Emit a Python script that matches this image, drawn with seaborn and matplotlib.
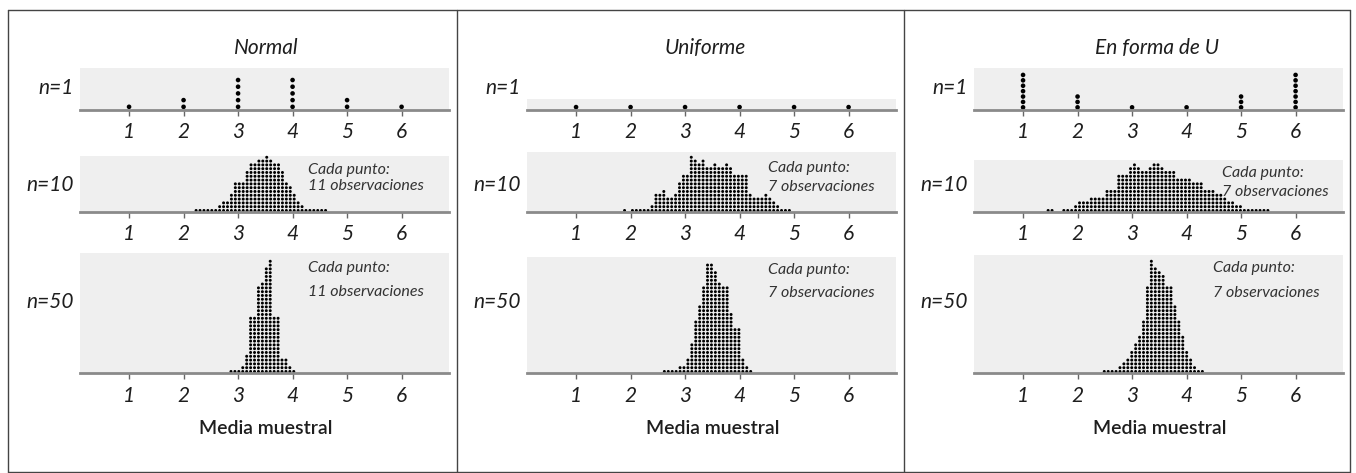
import numpy as np
import pandas as pd
import matplotlib
matplotlib.use("Agg")
import matplotlib.pyplot as plt
import seaborn as sns
from matplotlib.lines import Line2D

# ---- datos ----
TITLES = ["Normal", "Uniforme", "En forma de U"]
ROW_LABELS = ["n=1", "n=10", "n=50"]
TICKS = [1, 2, 3, 4, 5, 6]
XLABEL = "Media muestral"
NOTE_OBS = ["11 observaciones", "7 observaciones", "7 observaciones"]

BIN = 0.072  # ancho de cada columna de puntos

# n=1: un valor por cara
N1_VALUES = [1, 2, 3, 4, 5, 6]
NORMAL_N1 = [1, 2, 5, 5, 2, 1]
UNIFORM_N1 = [1, 1, 1, 1, 1, 1]
USHAPE_N1 = [7, 3, 1, 1, 3, 7]

# n=10: primer centro de columna + alturas
NORMAL_N10_START = 2.23
NORMAL_N10 = [1, 1, 1, 1, 1, 1, 2, 3, 3, 5, 8, 8, 8, 11, 13, 13, 14, 14, 15,
              14, 13, 13, 11, 8, 7, 5, 3, 2, 1, 1, 1, 1, 1, 1]
UNIFORM_N10_START = 1.89
UNIFORM_N10 = [1, 0, 1, 1, 1, 1, 1, 2, 5, 5, 6, 4, 4, 5, 8, 10, 10, 15, 14,
               13, 14, 12, 12, 13, 12, 12, 13, 12, 10, 10, 10, 10, 5, 4, 4,
               4, 5, 4, 3, 2, 1, 1, 1]
USHAPE_N10_START = 1.46
USHAPE_N10 = [1, 1, 0, 0, 1, 1, 1, 2, 3, 3, 3, 4, 4, 4, 4, 6, 6, 6, 10, 10,
              10, 12, 13, 12, 11, 11, 12, 13, 13, 12, 11, 11, 11, 9, 9, 9, 9,
              8, 8, 8, 6, 6, 6, 5, 5, 4, 3, 3, 2, 2, 1, 1, 1, 1, 1, 1, 1]

# n=50
NORMAL_N50_START = 2.87
NORMAL_N50 = [1, 1, 1, 2, 5, 15, 15, 23, 24, 28, 30, 15, 15, 4, 4, 2, 1]
UNIFORM_N50_START = 2.62
UNIFORM_N50 = [1, 1, 1, 1, 2, 2, 4, 8, 14, 18, 23, 29, 29, 27, 24, 23, 23,
               16, 12, 12, 4, 2, 1]
USHAPE_N50_START = 2.49
USHAPE_N50 = [1, 1, 1, 1, 2, 3, 4, 6, 8, 10, 14, 23, 30, 28, 27, 26, 23, 23,
              18, 14, 10, 6, 4, 2, 1, 1]


def columns(start, counts):
    return [start + i * BIN for i in range(len(counts))]


def stack_dots(xs, counts):
    rows = []
    for x, c in zip(xs, counts):
        for k in range(c):
            rows.append((x, k + 0.4))
    return pd.DataFrame(rows, columns=["media", "nivel"])


PANELS = [
    [(N1_VALUES, NORMAL_N1),
     (columns(NORMAL_N10_START, NORMAL_N10), NORMAL_N10),
     (columns(NORMAL_N50_START, NORMAL_N50), NORMAL_N50)],
    [(N1_VALUES, UNIFORM_N1),
     (columns(UNIFORM_N10_START, UNIFORM_N10), UNIFORM_N10),
     (columns(UNIFORM_N50_START, UNIFORM_N50), UNIFORM_N50)],
    [(N1_VALUES, USHAPE_N1),
     (columns(USHAPE_N10_START, USHAPE_N10), USHAPE_N10),
     (columns(USHAPE_N50_START, USHAPE_N50), USHAPE_N50)],
]

# ---- maquetación (píxeles) ----
W, H = 1356, 473
OFFSETS = [0, 447, 894]
BAND_LEFT, BAND_W = 80, 369
# (top, bottom) de cada banda gris por panel y fila
BANDS = [
    [(68, 109.5), (156, 212), (253, 373)],
    [(99, 109.5), (152, 212), (257, 373)],
    [(68, 109.5), (160, 212), (255, 373)],
]
# separación vertical entre puntos (px) y tamaño de punto
SPACING = [[6.7, 3.8, 3.8], [6.0, 3.8, 3.8], [5.4, 3.8, 3.8]]
DOT_S = [11, 4.6, 4.6]
TITLE_X = [266, 705, 1157]
NOTE_X = [[308, 308], [321, 321], [328, 319]]
NOTE_Y = [[(170, 186), (268, 292)], [(168, 187), (270, 293)],
          [(173, 192), (268, 293)]]
ROW_Y = [88, 185, 302]
TXT = "#1e1e1e"

sns.set_theme(style="white")
plt.rcParams["font.family"] = ["Lato", "DejaVu Sans"]

fig = plt.figure(figsize=(W / 100, H / 100), dpi=100)


def fx(x):
    return x / W


def fy(y):
    return 1 - y / H


for p in range(3):
    off = OFFSETS[p]
    fig.text(fx(TITLE_X[p]), fy(48), TITLES[p], ha="center", va="center",
             fontsize=15, style="italic", color=TXT)
    fig.text(fx(off + 266), fy(428), XLABEL, ha="center", va="center",
             fontsize=14, weight="semibold", color=TXT)

    for r in range(3):
        top, bot = BANDS[p][r]
        h = bot - top
        ax = fig.add_axes([fx(off + BAND_LEFT), fy(bot), BAND_W / W, h / H])
        ax.set_facecolor("#efefef")
        xs, counts = PANELS[p][r]
        dots = stack_dots(xs, counts)
        sns.scatterplot(data=dots, x="media", y="nivel", ax=ax, s=DOT_S[r],
                        color="black", edgecolor="none", linewidth=0,
                        legend=False, clip_on=False)
        ax.set_xlim(0.1, 6.87)
        ax.set_ylim(0, h / SPACING[p][r])
        ax.set_xticks(TICKS)
        ax.set_xticklabels([str(t) for t in TICKS], fontsize=15,
                           style="italic", color=TXT)
        ax.set_yticks([])
        ax.set_xlabel("")
        ax.set_ylabel("")
        for side in ["top", "left", "right"]:
            ax.spines[side].set_visible(False)
        ax.spines["bottom"].set_color("#8a8a8a")
        ax.spines["bottom"].set_linewidth(2)
        ax.tick_params(axis="x", bottom=True, length=4, width=1,
                       color="#666", pad=5)

        fig.text(fx(off + 74), fy(ROW_Y[r]), ROW_LABELS[r], ha="right",
                 va="center", fontsize=15, style="italic", color=TXT)
        if r > 0:
            y1, y2 = NOTE_Y[p][r - 1]
            nx = fx(off + NOTE_X[p][r - 1])
            fig.text(nx, fy(y1), "Cada punto:", ha="left", va="center",
                     fontsize=11.5, style="italic", color="#333")
            fig.text(nx, fy(y2), NOTE_OBS[p], ha="left", va="center",
                     fontsize=11.5, style="italic", color="#333")

# marco exterior y divisiones
for x in [8, 457, 904, 1350]:
    fig.add_artist(Line2D([fx(x), fx(x)], [fy(10), fy(472)],
                          color="#444", lw=1))
for y in [10, 472]:
    fig.add_artist(Line2D([fx(8), fx(1350)], [fy(y), fy(y)],
                          color="#444", lw=1))

fig.savefig("out.png", dpi=100, facecolor="white")
